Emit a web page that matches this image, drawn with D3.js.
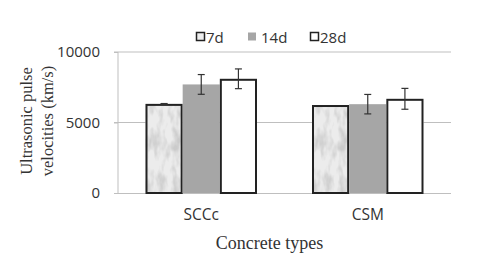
<!DOCTYPE html>
<meta charset="utf-8">
<style>
body { margin: 0; background: #fff; }
.grid line { stroke: #bfbfbf; stroke-width: 1px; }
.axis--y path, .axis--y line { stroke: #bfbfbf; }
.axis--y text { font-family: "Open Sans", "Liberation Sans", sans-serif; font-size: 15px; fill: #333; }
.axis--x text { font-family: "Open Sans", "Liberation Sans", sans-serif; font-size: 15.5px; fill: #333; }
.axis--x path { stroke: #bfbfbf; }
.title { font-family: "Liberation Serif", "DejaVu Serif", serif; fill: #333; }
.legend text { font-family: "Open Sans", "Liberation Sans", sans-serif; font-size: 15px; fill: #333; }
.err { stroke: #333; stroke-width: 1.2px; }
</style>
<svg width="480" height="267"></svg>
<script src="https://d3js.org/d3.v7.min.js"></script>
<script>

var categories = ["SCCc", "CSM"];
var series = ["7d", "14d", "28d"];
var values = {
  "7d":  [6320, 6240],
  "14d": [7700, 6300],
  "28d": [8100, 6680]
};
var errors = {
  "7d":  [25, 0],
  "14d": [700, 690],
  "28d": [700, 740]
};
var yTicks = [0, 5000, 10000];

var svg = d3.select("svg"),
    margin = {top: 52, right: 29, bottom: 74, left: 118},
    width = +svg.attr("width") - margin.left - margin.right,
    height = +svg.attr("height") - margin.top - margin.bottom;

// marble-ish texture for the 7d bars
var defs = svg.append("defs");
var filt = defs.append("filter").attr("id", "marble")
    .attr("x", 0).attr("y", 0).attr("width", 1).attr("height", 1);
filt.append("feTurbulence")
    .attr("type", "fractalNoise")
    .attr("baseFrequency", "0.11 0.05")
    .attr("numOctaves", 3)
    .attr("seed", 7)
    .attr("result", "noise");
filt.append("feColorMatrix")
    .attr("in", "noise")
    .attr("type", "matrix")
    .attr("values", "0 0 0 0 0.6  0 0 0 0 0.6  0 0 0 0 0.6  -3 0 0 0 1.75")
    .attr("result", "veins");
filt.append("feFlood").attr("flood-color", "#ececec").attr("result", "base");
filt.append("feComposite").attr("in", "veins").attr("in2", "base").attr("operator", "over").attr("result", "tex");
filt.append("feComposite").attr("in", "tex").attr("in2", "SourceGraphic").attr("operator", "in");

var x0 = d3.scaleBand().domain(categories).range([0, width]).paddingInner(0).paddingOuter(0);
var x1 = d3.scaleBand().domain(series).range([27.5, x0.bandwidth() - 27.5]).padding(0);
var y = d3.scaleLinear().domain([0, 10000]).range([height, 0]);

var g = svg.append("g")
    .attr("transform", "translate(" + margin.left + "," + margin.top + ")");

g.append("g")
    .attr("class", "grid")
  .selectAll("line")
  .data(yTicks.slice(1))
  .enter().append("line")
    .attr("x1", -4)
    .attr("x2", width)
    .attr("y1", function(d) { return y(d); })
    .attr("y2", function(d) { return y(d); });

g.append("g")
    .attr("class", "axis axis--y")
    .call(d3.axisLeft(y).tickValues(yTicks).tickSize(4).tickPadding(14).tickFormat(d3.format("d")))
  .call(function(a) { a.select(".domain").attr("d", "M0," + y(10000) + "V" + y(0)); });

g.append("g")
    .attr("class", "axis axis--x")
    .attr("transform", "translate(0," + height + ")")
    .call(d3.axisBottom(x0).tickSize(0).tickPadding(16))
  .call(function(a) { a.select(".domain").attr("d", "M-4,0.5H" + width); });

var fills = {"7d": "#eeeeee", "14d": "#a6a6a6", "28d": "#ffffff"};

var groups = g.selectAll(".grp")
  .data(categories)
  .enter().append("g")
    .attr("class", "grp")
    .attr("transform", function(d) { return "translate(" + x0(d) + ",0)"; });

series.forEach(function(s) {
  groups.append("rect")
      .attr("x", function(d, i) { return x1(s); })
      .attr("y", function(d, i) { return y(values[s][i]); })
      .attr("width", x1.bandwidth())
      .attr("height", function(d, i) { return height - y(values[s][i]); })
      .attr("fill", fills[s])
      .attr("filter", s === "7d" ? "url(#marble)" : null);
  if (s !== "14d") {
    groups.append("rect")
        .attr("x", function(d, i) { return x1(s) + 1; })
        .attr("y", function(d, i) { return y(values[s][i]) + 1; })
        .attr("width", x1.bandwidth() - 2)
        .attr("height", function(d, i) { return height - y(values[s][i]) - 1; })
        .attr("fill", "none")
        .attr("stroke", "#222")
        .attr("stroke-width", 2);
  }
  var cx = x1(s) + x1.bandwidth() / 2;
  groups.each(function(d, i) {
    var e = errors[s][i];
    if (!e) return;
    var gg = d3.select(this);
    var hi = y(values[s][i] + e), lo = y(values[s][i] - e);
    gg.append("line").attr("class", "err").attr("x1", cx).attr("x2", cx).attr("y1", hi).attr("y2", lo);
    gg.append("line").attr("class", "err").attr("x1", cx - 3.5).attr("x2", cx + 3.5).attr("y1", hi).attr("y2", hi);
    gg.append("line").attr("class", "err").attr("x1", cx - 3.5).attr("x2", cx + 3.5).attr("y1", lo).attr("y2", lo);
  });
});

// axis titles
g.append("text")
    .attr("class", "title")
    .attr("x", width / 2 - 15)
    .attr("y", height + 56)
    .attr("text-anchor", "middle")
    .style("font-size", "18px")
    .text("Concrete types");

var yt = svg.append("text")
    .attr("class", "title")
    .attr("transform", "translate(0,121) rotate(-90)")
    .attr("text-anchor", "middle")
    .style("font-size", "16.5px");
yt.append("tspan").attr("x", 0).attr("y", 32).text("Ultrasonic pulse");
yt.append("tspan").attr("x", 0).attr("y", 53).text("velocities (km/s)");

// legend
var legendX = [196, 248, 310];
var legend = svg.append("g").attr("class", "legend");
series.forEach(function(s, i) {
  var lg = legend.append("g").attr("transform", "translate(" + legendX[i] + ",32)");
  if (s === "14d") {
    lg.append("rect").attr("x", 0).attr("y", 0.5).attr("width", 8).attr("height", 8).attr("fill", "#a6a6a6");
  } else {
    lg.append("rect").attr("x", 0.5).attr("y", 0.5).attr("width", 8).attr("height", 8)
        .attr("fill", fills[s]).attr("stroke", "#222").attr("stroke-width", 1.5);
  }
  lg.append("text").attr("x", s === "14d" ? 13 : 10).attr("y", 10.5).text(s);
});

</script>
